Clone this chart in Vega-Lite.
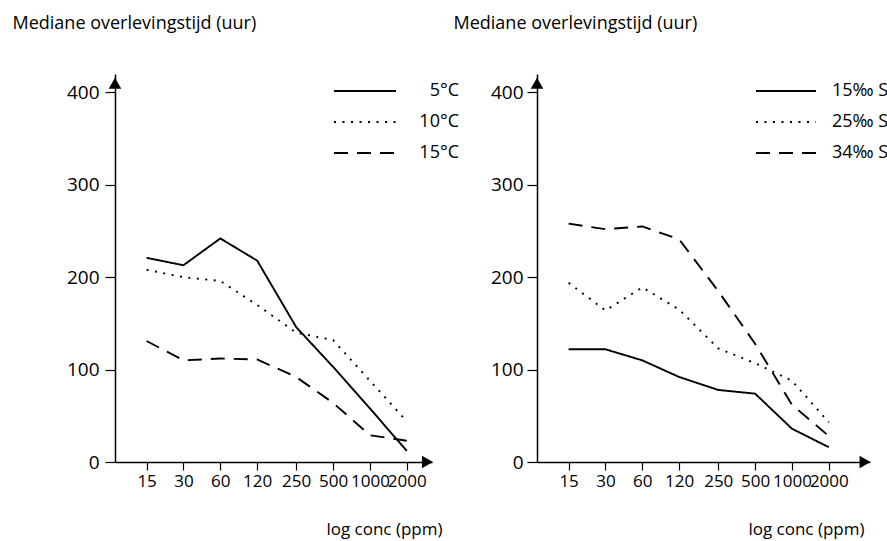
{
  "$schema": "https://vega.github.io/schema/vega-lite/v6.json",
  "background": "white",
  "padding": {"left": 12, "top": 14, "right": 0, "bottom": 5},
  "bounds": "flush",
  "spacing": 105,
  "resolve": {"scale": {"strokeDash": "independent", "x": "independent", "y": "independent"}, "legend": {"strokeDash": "independent"}},
  "config": {
    "font": "Open Sans",
    "view": {"stroke": null},
    "axis": {
      "domainColor": "black", "domainWidth": 1.5, "tickColor": "black", "tickWidth": 1.2,
      "labelColor": "black", "titleColor": "black", "grid": false,
      "labelFont": "Open Sans", "titleFont": "Open Sans", "titleFontWeight": "normal"
    },
    "legend": {"labelFont": "Open Sans", "labelColor": "black"}
  },
  "datasets": {
    "temp": [
      {"conc": 15, "uur": 221, "series": "5°C"},
      {"conc": 30, "uur": 213, "series": "5°C"},
      {"conc": 60, "uur": 242, "series": "5°C"},
      {"conc": 120, "uur": 218, "series": "5°C"},
      {"conc": 250, "uur": 146, "series": "5°C"},
      {"conc": 500, "uur": 103, "series": "5°C"},
      {"conc": 1000, "uur": 58, "series": "5°C"},
      {"conc": 2000, "uur": 12, "series": "5°C"},
      {"conc": 15, "uur": 208, "series": "10°C"},
      {"conc": 30, "uur": 200, "series": "10°C"},
      {"conc": 60, "uur": 196, "series": "10°C"},
      {"conc": 120, "uur": 170, "series": "10°C"},
      {"conc": 250, "uur": 140, "series": "10°C"},
      {"conc": 500, "uur": 132, "series": "10°C"},
      {"conc": 1000, "uur": 88, "series": "10°C"},
      {"conc": 2000, "uur": 44, "series": "10°C"},
      {"conc": 15, "uur": 131, "series": "15°C"},
      {"conc": 30, "uur": 110, "series": "15°C"},
      {"conc": 60, "uur": 112, "series": "15°C"},
      {"conc": 120, "uur": 111, "series": "15°C"},
      {"conc": 250, "uur": 92, "series": "15°C"},
      {"conc": 500, "uur": 64, "series": "15°C"},
      {"conc": 1000, "uur": 29, "series": "15°C"},
      {"conc": 2000, "uur": 23, "series": "15°C"}
    ],
    "salt": [
      {"conc": 15, "uur": 122, "series": "15‰ S"},
      {"conc": 30, "uur": 122, "series": "15‰ S"},
      {"conc": 60, "uur": 110, "series": "15‰ S"},
      {"conc": 120, "uur": 92, "series": "15‰ S"},
      {"conc": 250, "uur": 78, "series": "15‰ S"},
      {"conc": 500, "uur": 74, "series": "15‰ S"},
      {"conc": 1000, "uur": 36, "series": "15‰ S"},
      {"conc": 2000, "uur": 16, "series": "15‰ S"},
      {"conc": 15, "uur": 194, "series": "25‰ S"},
      {"conc": 30, "uur": 164, "series": "25‰ S"},
      {"conc": 60, "uur": 189, "series": "25‰ S"},
      {"conc": 120, "uur": 165, "series": "25‰ S"},
      {"conc": 250, "uur": 123, "series": "25‰ S"},
      {"conc": 500, "uur": 107, "series": "25‰ S"},
      {"conc": 1000, "uur": 88, "series": "25‰ S"},
      {"conc": 2000, "uur": 43, "series": "25‰ S"},
      {"conc": 15, "uur": 258, "series": "34‰ S"},
      {"conc": 30, "uur": 252, "series": "34‰ S"},
      {"conc": 60, "uur": 255, "series": "34‰ S"},
      {"conc": 120, "uur": 241, "series": "34‰ S"},
      {"conc": 250, "uur": 185, "series": "34‰ S"},
      {"conc": 500, "uur": 128, "series": "34‰ S"},
      {"conc": 1000, "uur": 62, "series": "34‰ S"},
      {"conc": 2000, "uur": 28, "series": "34‰ S"}
    ]
  },
  "hconcat": [
    {
      "width": 317,
      "height": 388,
      "layer": [
        {
          "data": {"name": "temp"},
          "mark": {"type": "line", "color": "black", "strokeWidth": 1.9},
          "encoding": {
            "x": {
              "field": "conc", "type": "quantitative",
              "scale": {"type": "log", "domain": [8.28, 3214], "nice": false},
              "axis": {
                "values": [15, 30, 60, 120, 250, 500, 1000, 2000], "format": "d",
                "labelOverlap": false, "labelFlush": false, "tickSize": 8, "labelPadding": 3,
                "labelFontSize": 17, "title": "log conc (ppm)", "titleFontSize": 17,
                "titleAlign": "right", "titleAnchor": "start", "titleX": 327, "titleY": 72, "titleBaseline": "alphabetic"
              }
            },
            "y": {
              "field": "uur", "type": "quantitative",
              "scale": {"domain": [0, 420], "nice": false},
              "axis": {
                "values": [0, 100, 200, 300, 400], "tickSize": 10, "labelPadding": 6, "labelFontSize": 19,
                "title": "Mediane overlevingstijd (uur)", "titleFontSize": 18, "titleAngle": 0,
                "titleAlign": "left", "titleBaseline": "alphabetic", "titleX": -103, "titleY": -46
              }
            },
            "strokeDash": {
              "field": "series", "type": "nominal",
              "scale": {"domain": ["5°C", "10°C", "15°C"], "range": [[1, 0], [2, 6.5], [14, 9]]},
              "legend": {
                "orient": "none", "legendX": 239, "legendY": 6, "title": null,
                "symbolType": "M-3.1,0H3.1", "symbolSize": 400, "symbolStrokeWidth": 1.9, "symbolStrokeColor": "black",
                "labelFontSize": 18, "labelAlign": "right", "labelOffset": 83, "rowPadding": 11
              }
            }
          }
        },
        {
          "data": {"values": [{}]},
          "mark": {"type": "point", "shape": "triangle-up", "filled": true, "color": "black", "opacity": 1, "size": 160},
          "encoding": {"x": {"datum": 8.28}, "y": {"datum": 410}}
        },
        {
          "data": {"values": [{}]},
          "mark": {"type": "point", "shape": "triangle-right", "filled": true, "color": "black", "opacity": 1, "size": 160},
          "encoding": {"x": {"datum": 2950}, "y": {"datum": 0}}
        }
      ]
    },
    {
      "width": 333,
      "height": 388,
      "layer": [
        {
          "data": {"name": "salt"},
          "mark": {"type": "line", "color": "black", "strokeWidth": 1.9},
          "encoding": {
            "x": {
              "field": "conc", "type": "quantitative",
              "scale": {"type": "log", "domain": [8.28, 4337], "nice": false},
              "axis": {
                "values": [15, 30, 60, 120, 250, 500, 1000, 2000], "format": "d",
                "labelOverlap": false, "labelFlush": false, "tickSize": 8, "labelPadding": 3,
                "labelFontSize": 17, "title": "log conc (ppm)", "titleFontSize": 17,
                "titleAlign": "right", "titleAnchor": "start", "titleX": 327, "titleY": 72, "titleBaseline": "alphabetic"
              }
            },
            "y": {
              "field": "uur", "type": "quantitative",
              "scale": {"domain": [0, 420], "nice": false},
              "axis": {
                "values": [0, 100, 200, 300, 400], "tickSize": 10, "labelPadding": 4, "labelFontSize": 19,
                "title": "Mediane overlevingstijd (uur)", "titleFontSize": 18, "titleAngle": 0,
                "titleAlign": "left", "titleBaseline": "alphabetic", "titleX": -84, "titleY": -46
              }
            },
            "strokeDash": {
              "field": "series", "type": "nominal",
              "scale": {"domain": ["15‰ S", "25‰ S", "34‰ S"], "range": [[1, 0], [2, 6.5], [14, 9]]},
              "legend": {
                "orient": "none", "legendX": 238, "legendY": 6, "title": null,
                "symbolType": "M-3,0H3", "symbolSize": 400, "symbolStrokeWidth": 1.9, "symbolStrokeColor": "black",
                "labelFontSize": 18, "labelAlign": "left", "labelOffset": 35, "rowPadding": 11
              }
            }
          }
        },
        {
          "data": {"values": [{}]},
          "mark": {"type": "point", "shape": "triangle-up", "filled": true, "color": "black", "opacity": 1, "size": 160},
          "encoding": {"x": {"datum": 8.28}, "y": {"datum": 410}}
        },
        {
          "data": {"values": [{}]},
          "mark": {"type": "point", "shape": "triangle-right", "filled": true, "color": "black", "opacity": 1, "size": 160},
          "encoding": {"x": {"datum": 3950}, "y": {"datum": 0}}
        }
      ]
    }
  ]
}
